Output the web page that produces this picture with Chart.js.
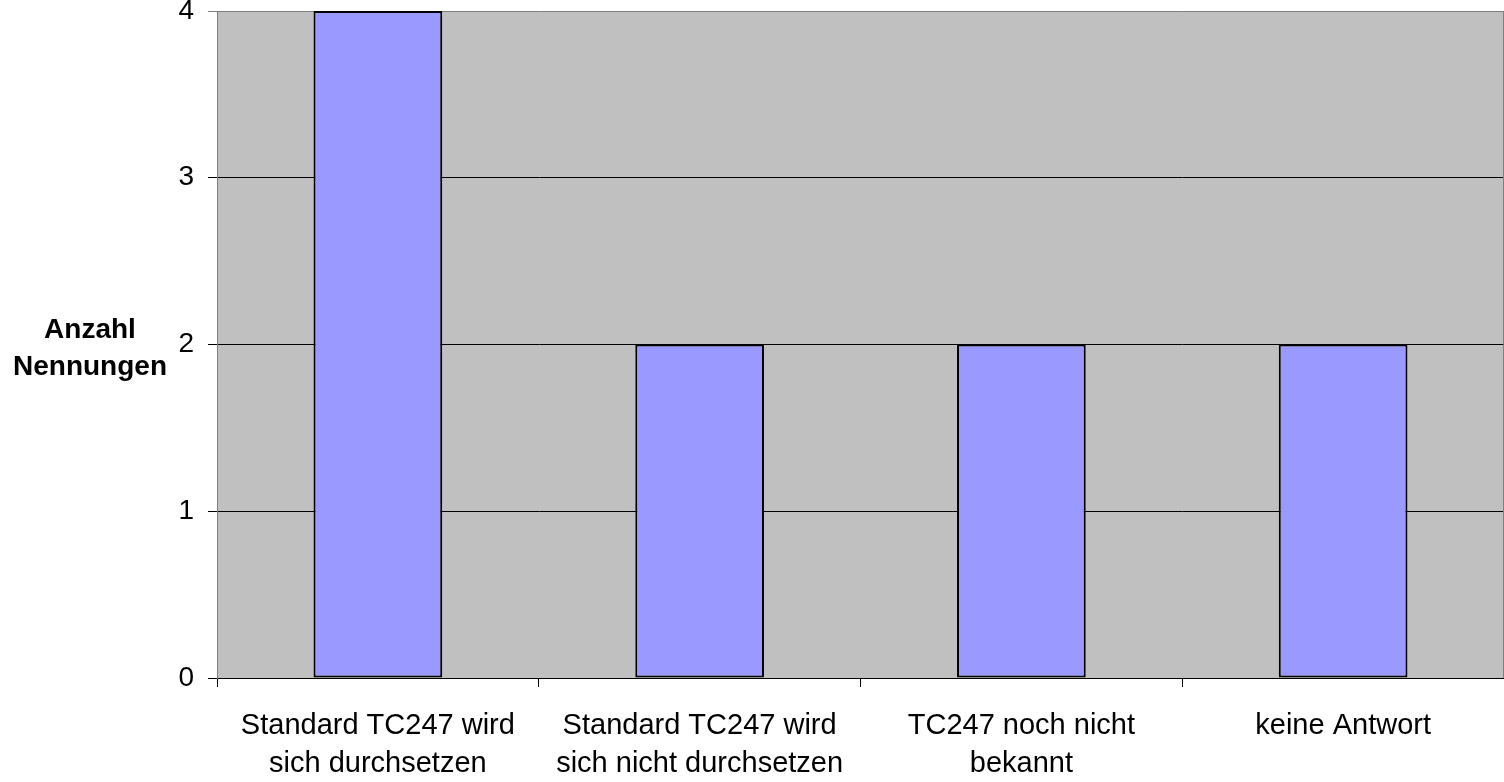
<!DOCTYPE html>
<html>
<head>
<meta charset="utf-8">
<script src="https://cdn.jsdelivr.net/npm/chart.js@4/dist/chart.umd.min.js"></script>
<style>
  html, body { margin: 0; padding: 0; background: #ffffff; }
  #wrap { position: relative; width: 1504px; height: 782px; }
</style>
</head>
<body>
<div id="wrap"><canvas id="c" width="1504" height="782"></canvas></div>
<script>
// Survey answers and how often each was named
const categories = [
  ['Standard TC247 wird', 'sich durchsetzen'],
  ['Standard TC247 wird', 'sich nicht durchsetzen'],
  ['TC247 noch nicht', 'bekannt'],
  'keine Antwort'
];
const counts = [4, 2, 2, 2];
const yTicks = [0, 1, 2, 3, 4];
const yTitle = ['Anzahl', 'Nennungen'];

const FONT = '"Liberation Sans", Arial, sans-serif';

// Grey plot background plus its right-hand frame line
const plotBackground = {
  id: 'plotBackground',
  beforeDraw(chart) {
    const { ctx, chartArea: a } = chart;
    ctx.save();
    ctx.fillStyle = '#c0c0c0';
    ctx.fillRect(a.left, a.top, a.right - a.left, a.bottom - a.top);
    ctx.restore();
  },
  afterDatasetsDraw(chart) {
    const { ctx, chartArea: a } = chart;
    ctx.save();
    ctx.strokeStyle = '#808080';
    ctx.lineWidth = 1;
    ctx.beginPath();
    ctx.moveTo(a.right - 0.5, a.top);
    ctx.lineTo(a.right - 0.5, a.bottom);
    ctx.stroke();
    ctx.restore();
  }
};

// Horizontal two-line title to the left of the value axis
const sideTitle = {
  id: 'sideTitle',
  afterDraw(chart) {
    const { ctx, chartArea: a } = chart;
    const lh = 37;
    const cy = (a.top + a.bottom) / 2;
    ctx.save();
    ctx.font = 'bold 28px ' + FONT;
    ctx.fillStyle = '#000';
    ctx.textAlign = 'center';
    ctx.textBaseline = 'alphabetic';
    const n = yTitle.length;
    yTitle.forEach((t, i) => {
      ctx.fillText(t, 90, cy + 12 + (i - (n - 1) / 2) * lh);
    });
    ctx.restore();
  }
};

new Chart(document.getElementById('c'), {
  type: 'bar',
  data: {
    labels: categories,
    datasets: [{
      data: counts,
      backgroundColor: '#9999ff',
      borderColor: '#000000',
      borderWidth: 2,
      borderSkipped: false,
      barPercentage: 0.4,
      categoryPercentage: 1.0
    }]
  },
  options: {
    responsive: false,
    animation: false,
    devicePixelRatio: 1,
    layout: { padding: { top: 11, right: 0, bottom: 0, left: 0 } },
    plugins: {
      legend: { display: false },
      tooltip: { enabled: false }
    },
    scales: {
      x: {
        offset: true,
        grid: {
          offset: true,
          drawOnChartArea: false,
          drawTicks: true,
          tickLength: 9,
          color: '#000000',
          lineWidth: 1
        },
        border: { display: true, color: '#000000', width: 1 },
        ticks: {
          font: { family: FONT, size: 29, lineHeight: 1.31 },
          color: '#000000',
          padding: 20,
          maxRotation: 0,
          autoSkip: false
        },
        afterFit(s) { s.height = 104; s.paddingLeft = 0; s.paddingRight = 0; }
      },
      y: {
        min: 0,
        max: 4,
        afterBuildTicks(s) { s.ticks = yTicks.map(v => ({ value: v })); },
        grid: {
          color: ctx => (ctx.tick && ctx.tick.value === 4 ? '#808080' : '#000000'),
          lineWidth: 1,
          tickLength: 9,
          drawTicks: true
        },
        border: { display: true, color: '#808080', width: 1 },
        ticks: {
          font: { family: FONT, size: 28 },
          color: '#000000',
          padding: 14
        },
        afterFit(s) { s.width = 217; s.paddingTop = 0; s.paddingBottom = 0; }
      }
    }
  },
  plugins: [plotBackground, sideTitle]
});
</script>
</body>
</html>
